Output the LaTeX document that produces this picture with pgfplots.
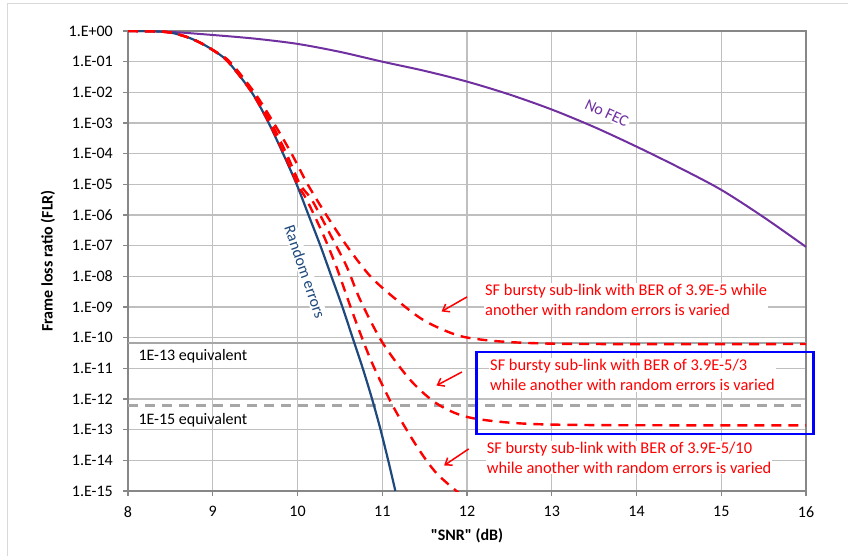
\documentclass[border=0pt]{standalone}
\usepackage{fontspec}
\setmainfont{Carlito}
\usepackage{pgfplots}
\pgfplotsset{compat=1.18}
\usetikzlibrary{arrows.meta}
\definecolor{navy}{HTML}{1F497D}
\definecolor{purp}{HTML}{7030A0}
\definecolor{gridc}{HTML}{BFBFBF}
\definecolor{axisc}{HTML}{878787}
\definecolor{refgray}{HTML}{A6A6A6}
\definecolor{frame}{HTML}{D9D9D9}
\newcommand\fs{\fontsize{16}{20}\selectfont}
\newcommand\fa{\fontsize{16.4}{20}\selectfont}
\begin{document}
\begin{tikzpicture}
\draw[frame, line width=1pt] (7.5pt,0pt) -- (7.5pt,552pt) -- (848pt,552pt);
\begin{axis}[
  at={(128pt,65pt)}, anchor=south west,
  scale only axis, width=678pt, height=460pt,
  xmin=8, xmax=16, ymin=1e-15, ymax=1,
  ymode=log, yminorticks=false,
  xtick={8,9,10,11,12,13,14,15,16},
  xticklabels={8,9,10,11,12,13,14,15,16},
  ytick={1e-15,1e-14,1e-13,1e-12,1e-11,1e-10,1e-9,1e-8,1e-7,1e-6,1e-5,1e-4,1e-3,1e-2,1e-1,1},
  yticklabels={1.E-15,1.E-14,1.E-13,1.E-12,1.E-11,1.E-10,1.E-09,1.E-08,1.E-07,1.E-06,1.E-05,1.E-04,1.E-03,1.E-02,1.E-01,1.E+00},
  grid=major,
  major grid style={draw=gridc, line width=1.2pt},
  axis line style={draw=axisc, line width=1.3pt},
  tick style={draw=axisc, line width=1.2pt},
  tick align=outside, major tick length=5pt,
  xtick pos=bottom, ytick pos=left,
  tick label style={font=\fs, text=black},
  /pgf/number format/assume math mode=true,
  yticklabel style={inner sep=0pt, xshift=-10pt},
  xticklabel style={inner sep=0pt, yshift=-10pt},
  xlabel={\textquotedbl SNR\textquotedbl{} (dB)}, ylabel={Frame loss ratio (FLR)},
  label style={font=\fs\bfseries},
  xlabel style={at={(axis description cs:0.5,-0.0978)}, anchor=center},
  ylabel style={at={(axis description cs:-0.118,0.5)}, anchor=center},
]
% reference levels
\addplot[refgray, line width=2pt] coordinates {(8,6.9e-11)(16,6.9e-11)};
\addplot[refgray, line width=2.8pt, dash pattern=on 10pt off 7pt] coordinates {(8,6.3e-13)(16,6.3e-13)};
% No FEC
\addplot[purp, line width=2pt, smooth] coordinates {
(8,1)(8.5,0.933)(9,0.741)(9.5,0.562)(10,0.380)(10.5,0.209)(11,0.1)(11.5,0.0501)
(12,0.0224)(12.5,8.51e-3)(13,2.75e-3)(13.5,7.41e-4)(14,1.70e-4)(14.5,3.55e-5)
(15,6.61e-6)(15.5,8.51e-7)(16,9.12e-8)};
% Random errors
\addplot[navy, line width=2.2pt, smooth] coordinates {
(8,1)(8.3,0.977)(8.5,0.891)(8.7,0.631)(8.85,0.417)(9.0,0.240)(9.18,1e-1)(9.46,1e-2)
(9.66,1e-3)(9.83,1e-4)(9.99,1e-5)(10.13,1e-6)(10.27,1e-7)(10.40,1e-8)(10.53,1e-9)
(10.65,1e-10)(10.77,1e-11)(10.88,1e-12)(10.98,1e-13)(11.07,1e-14)(11.155,1e-15)};
% bursty BER 3.9E-5/10
\addplot[red, line width=2.4pt, dash pattern=on 10pt off 7pt, smooth] coordinates {
(8,1)(8.3,0.977)(8.5,0.891)(8.7,0.631)(8.85,0.417)(9.0,0.240)(9.18,1e-1)(9.46,1e-2)
(9.665,1e-3)(9.84,1e-4)(10.0,1e-5)(10.11,3.09e-6)(10.3,2.4e-7)(10.46,2.0e-8)
(10.62,1.12e-9)(10.76,1e-10)(10.9,1.12e-11)(11.13,5.6e-13)(11.41,2.8e-14)
(11.64,3.8e-15)(11.92,7.9e-16)};
% bursty BER 3.9E-5/3
\addplot[red, line width=2.4pt, dash pattern=on 10pt off 7pt, smooth] coordinates {
(8,1)(8.3,0.977)(8.5,0.891)(8.7,0.631)(8.85,0.417)(9.0,0.240)(9.18,1e-1)(9.47,1e-2)
(9.69,1e-3)(9.87,1e-4)(10.03,1e-5)(10.17,3.09e-6)(10.38,2.5e-7)(10.58,2.1e-8)
(10.74,1.7e-9)(11.0,7.1e-11)(11.33,4.2e-12)(11.64,7.2e-13)(12.0,2.6e-13)
(12.6,1.62e-13)(13.5,1.41e-13)(16,1.38e-13)};
% bursty BER 3.9E-5
\addplot[red, line width=2.4pt, dash pattern=on 10pt off 7pt, smooth] coordinates {
(8,1)(8.3,0.977)(8.5,0.891)(8.7,0.631)(8.85,0.417)(9.0,0.240)(9.2,1e-1)(9.49,1e-2)
(9.72,1e-3)(9.93,1e-4)(10.12,1e-5)(10.34,1e-6)(10.58,1e-7)(10.86,1e-8)(11.17,1.7e-9)
(11.5,3.55e-10)(11.9,1.17e-10)(12.3,7.9e-11)(12.8,6.6e-11)(13.5,6.2e-11)(16,6.2e-11)};
% annotations
\node[font=\fs, anchor=west, inner sep=1pt] at (axis cs:8.11,2.5e-11) {1E-13 equivalent};
\node[font=\fs, anchor=west, inner sep=1pt] at (axis cs:8.11,2.1e-13) {1E-15 equivalent};
\node[font=\fs, text=navy, fill=white, inner sep=1.5pt, rotate=-71] at (axis cs:10.09,1.41e-8) {Random errors};
\node[font=\fs, text=purp, fill=white, inner sep=1.5pt, rotate=-25] at (axis cs:13.65,2.09e-3) {No FEC};
\node[font=\fa, text=red, fill=white, inner sep=1pt, anchor=west, align=left] at (axis cs:12.2,1.7e-9)
  {SF bursty sub-link with BER of 3.9E-5 while\\another with random errors is varied};
\node[font=\fa, text=red, fill=white, inner sep=1pt, anchor=west, align=left] at (axis cs:12.26,6.0e-12)
  {SF bursty sub-link with BER of 3.9E-5/3\\while another with random errors is varied};
\node[font=\fa, text=red, fill=white, inner sep=1pt, anchor=west, align=left] at (axis cs:12.22,1.23e-14)
  {SF bursty sub-link with BER of 3.9E-5/10\\while another with random errors is varied};
\draw[red, line width=1.5pt, -{Straight Barb[length=6pt,width=9pt]}] (axis cs:12.0,2.13e-9) -- (axis cs:11.70,7.15e-10);
\draw[red, line width=1.5pt, -{Straight Barb[length=6pt,width=9pt]}] (axis cs:11.94,7.6e-12) -- (axis cs:11.64,2.75e-12);
\draw[red, line width=1.5pt, -{Straight Barb[length=6pt,width=9pt]}] (axis cs:12.02,2.36e-14) -- (axis cs:11.73,6.8e-15);
\coordinate (boxA) at (axis cs:12.11,3.4e-11);
\coordinate (boxB) at (axis cs:16.09,7.2e-14);
\end{axis}
\draw[blue, line width=2.5pt] (boxA) rectangle (boxB);
\pgfresetboundingbox
\path[use as bounding box] (0pt,0pt) rectangle (848pt,556pt);
\end{tikzpicture}
\end{document}
